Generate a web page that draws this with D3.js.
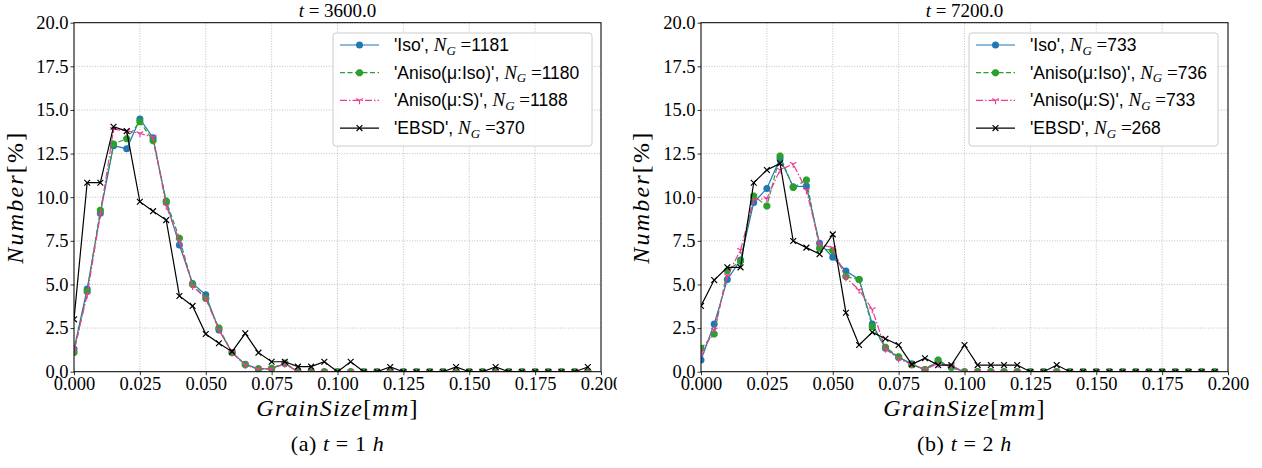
<!DOCTYPE html>
<html><head><meta charset="utf-8">
<script src="https://cdn.jsdelivr.net/npm/d3@7"></script>
<style>
body{margin:0;background:#fff;}
svg{display:block;}
</style></head>
<body>
<svg id="chart" width="1262" height="468"></svg>
<script>
// ---- data ----
const grainSize = d3.range(40).map(i => +(i * 0.005).toFixed(3));
const xTicks = [0, 0.025, 0.05, 0.075, 0.1, 0.125, 0.15, 0.175, 0.2];
const yTicks = [0, 2.5, 5, 7.5, 10, 12.5, 15, 17.5, 20];
const seriesNames = ["'Iso', ", "'Aniso(\u03BC:Iso)', ", "'Aniso(\u03BC:S)', ", "'EBSD', "];
const panelTitles = ["t = 3600.0", "t = 7200.0"];
const captions = [["(a) ", "t", " = 1 ", "h"], ["(b) ", "t", " = 2 ", "h"]];
const nGrainsLeft = [1181, 1180, 1188, 370];
const nGrainsRight = [733, 736, 733, 268];
const z = n => Array(n).fill(0);

const leftIso = [1.3, 4.74, 9.08, 12.95, 12.78, 14.48, 13.41, 9.72, 7.26, 5.06, 4.41, 2.39, 1.09, 0.42, 0.17, 0.17, 0.47, 0, ...z(22)];
const leftAnisoIso = [1.1, 4.6, 9.25, 13.05, 13.35, 14.33, 13.24, 9.78, 7.65, 5.0, 4.2, 2.5, 1.1, 0.4, 0.15, 0.2, 0.5, 0, ...z(22)];
const leftAnisoS = [1.2, 4.4, 9.0, 13.9, 13.8, 13.65, 13.45, 9.5, 7.5, 4.9, 4.2, 2.4, 1.1, 0.38, 0.15, 0.15, 0.45, 0, ...z(22)];
const leftEBSD = [3.0, 10.83, 10.83, 14.04, 13.79, 9.74, 9.2, 8.69, 4.34, 3.77, 2.16, 1.63, 1.15, 2.2, 1.09, 0.57, 0.57, 0.29, 0.29, 0.57,
  0, 0.57, 0, 0, 0.27, 0, 0, 0, 0, 0.27, 0, 0, 0.27, 0, 0, 0, 0, 0, 0, 0.27];

const rightIso = [0.67, 2.73, 5.29, 6.4, 9.69, 10.5, 12.2, 10.6, 10.64, 7.36, 6.56, 5.77, 5.29, 2.73, 1.34, 0.82, 0.45, 0.1, 0.6, 0.25, 0, ...z(19)];
const rightAnisoIso = [1.34, 2.16, 5.79, 6.34, 10.07, 9.5, 12.36, 10.55, 10.99, 7.07, 6.94, 5.45, 5.29, 2.58, 1.4, 0.86, 0.4, 0.13, 0.67, 0.25, 0, ...z(19)];
const rightAnisoS = [1.0, 2.4, 5.5, 6.97, 9.84, 9.93, 11.56, 11.9, 10.4, 7.3, 7.1, 5.4, 4.68, 3.57, 1.3, 0.75, 0.4, 0.15, 0.45, 0.35, 0, ...z(19)];
const rightEBSD = [3.77, 5.25, 5.98, 5.98, 10.83, 11.56, 11.94, 7.49, 7.11, 6.74, 7.87, 3.38, 1.53, 2.26, 1.89, 1.53, 0.42, 0.77, 0.38, 0.38,
  1.53, 0.38, 0.38, 0.38, 0.38, 0, 0, 0.38, 0, ...z(11)];

// ---- styles ----
const colors = ["#1f77b4", "#2ca02c", "#ee3a9a", "#000000"];
const dashes = [null, "5,2.5", "7,2,1.5,2", null];
const markers = ["circle", "octagon", "tridown", "x"];
const widths = [1.2, 1.2, 1.2, 1.2];

const svg = d3.select("#chart");
const serif = "'Liberation Serif', 'DejaVu Serif', serif";
const sans = "'Liberation Sans', 'DejaVu Sans', sans-serif";

function marker(g, type, x, y, color) {
  if (type === "circle") {
    g.append("circle").attr("cx", x).attr("cy", y).attr("r", 3.5).attr("fill", color);
  } else if (type === "octagon") {
    const r = 3.8;
    const pts = d3.range(8).map(k => {
      const a = Math.PI / 8 + k * Math.PI / 4;
      return [x + r * Math.cos(a), y + r * Math.sin(a)];
    });
    g.append("path").attr("d", "M" + pts.join("L") + "Z").attr("fill", color);
  } else if (type === "tridown") {
    const r = 3.8;
    g.append("path").attr("d", `M${x},${y}L${x},${y + r}M${x},${y}L${x - 0.866 * r},${y - 0.5 * r}M${x},${y}L${x + 0.866 * r},${y - 0.5 * r}`)
      .attr("stroke", color).attr("stroke-width", 1.2).attr("fill", "none");
  } else {
    const r = 2.9;
    g.append("path").attr("d", `M${x - r},${y - r}L${x + r},${y + r}M${x - r},${y + r}L${x + r},${y - r}`)
      .attr("stroke", color).attr("stroke-width", 1.2).attr("fill", "none");
  }
}

function panel(idx, x0, x1, yLabX, seriesArr, nGrains, legX0, legX1, clipRight) {
  const y0 = 22.7, y1 = 371.7;
  const x = d3.scaleLinear().domain([0, 0.2]).range([x0, x1]);
  const y = d3.scaleLinear().domain([0, 20]).range([y1, y0]);
  const root = svg.append("g");
  const clipId = "clip" + idx, outerId = "outer" + idx;
  const defs = svg.append("defs");
  defs.append("clipPath").attr("id", clipId).append("rect")
    .attr("x", x0).attr("y", y0).attr("width", x1 - x0).attr("height", y1 - y0);
  defs.append("clipPath").attr("id", outerId).append("rect")
    .attr("x", 0).attr("y", 0).attr("width", clipRight).attr("height", 468);
  const outer = root.append("g").attr("clip-path", `url(#${outerId})`);

  // grid
  const grid = outer.append("g");
  grid.selectAll("line.gx").data(xTicks).join("line")
    .attr("x1", d => x(d)).attr("x2", d => x(d)).attr("y1", y0).attr("y2", y1)
    .attr("stroke", "#b0b0b0").attr("stroke-width", 0.8).attr("stroke-dasharray", "1,1.6");
  grid.selectAll("line.gy").data(yTicks).join("line")
    .attr("x1", x0).attr("x2", x1).attr("y1", d => y(d)).attr("y2", d => y(d))
    .attr("stroke", "#b0b0b0").attr("stroke-width", 0.8).attr("stroke-dasharray", "1,1.6");

  // axes
  const xAxis = d3.axisBottom(x).tickValues(xTicks).tickFormat(d3.format(".3f")).tickSize(3.5).tickPadding(1);
  const yAxis = d3.axisLeft(y).tickValues(yTicks).tickFormat(d3.format(".1f")).tickSize(3.5).tickPadding(2);
  const gx = outer.append("g").attr("transform", `translate(0,${y1})`).call(xAxis);
  const gy = outer.append("g").attr("transform", `translate(${x0},0)`).call(yAxis);
  [gx, gy].forEach(g => {
    g.attr("font-family", serif).attr("font-size", 18.5);
    g.select(".domain").remove();
    g.selectAll("text").attr("font-family", serif).attr("font-size", 18.5).attr("fill", "#000");
    g.selectAll("line").attr("stroke", "#000").attr("stroke-width", 0.8);
  });
  gx.selectAll("text").attr("dy", "0.75em");

  // data lines
  const plot = outer.append("g").attr("clip-path", `url(#${clipId})`);
  const line = d3.line().x((d, i) => x(grainSize[i])).y(d => y(d));
  seriesArr.forEach((vals, s) => {
    const g = plot.append("g");
    g.append("path").attr("d", line(vals)).attr("fill", "none")
      .attr("stroke", colors[s]).attr("stroke-width", widths[s])
      .attr("stroke-dasharray", dashes[s]);
    vals.forEach((v, i) => marker(g, markers[s], x(grainSize[i]), y(v), colors[s]));
  });

  // spines
  outer.append("rect").attr("x", x0).attr("y", y0).attr("width", x1 - x0).attr("height", y1 - y0)
    .attr("fill", "none").attr("stroke", "#000").attr("stroke-width", 1);

  // title
  const t = root.append("text").attr("x", (x0 + x1) / 2).attr("y", 17).attr("text-anchor", "middle")
    .attr("font-family", serif).attr("font-size", 19);
  t.append("tspan").attr("font-style", "italic").text(panelTitles[idx].slice(0, 1));
  t.append("tspan").text(panelTitles[idx].slice(1));

  // axis labels
  const xl = root.append("text").attr("x", (x0 + x1) / 2).attr("y", 416).attr("text-anchor", "middle")
    .attr("font-family", serif).attr("font-size", 24).attr("letter-spacing", 1.2);
  xl.append("tspan").attr("font-style", "italic").text("GrainSize");
  xl.append("tspan").text("[");
  xl.append("tspan").attr("font-style", "italic").text("mm");
  xl.append("tspan").text("]");
  const yl = root.append("text").attr("transform", `translate(${yLabX},${(y0 + y1) / 2}) rotate(-90)`)
    .attr("text-anchor", "middle").attr("font-family", serif).attr("font-size", 24).attr("letter-spacing", 2.2);
  yl.append("tspan").attr("font-style", "italic").text("Number");
  yl.append("tspan").text("[%]");

  // caption
  const cap = root.append("text").attr("x", (x0 + x1) / 2).attr("y", 451).attr("text-anchor", "middle")
    .attr("font-family", serif).attr("font-size", 22).attr("letter-spacing", 0.6);
  captions[idx].forEach((p, k) => cap.append("tspan").attr("font-style", k % 2 ? "italic" : "normal").text(p));

  // legend
  const lg = root.append("g");
  lg.append("rect").attr("x", legX0).attr("y", 33).attr("width", legX1 - legX0).attr("height", 113)
    .attr("rx", 3).attr("fill", "#fff").attr("fill-opacity", 0.85).attr("stroke", "#cccccc").attr("stroke-width", 1);
  seriesNames.forEach((name, s) => {
    const cy = 45 + s * 27.7;
    const hx0 = legX0 + 7, hx1 = legX0 + 46;
    const hg = lg.append("g");
    hg.append("line").attr("x1", hx0).attr("x2", hx1).attr("y1", cy).attr("y2", cy)
      .attr("stroke", colors[s]).attr("stroke-width", widths[s]).attr("stroke-dasharray", dashes[s]);
    marker(hg, markers[s], (hx0 + hx1) / 2, cy, colors[s]);
    const tx = lg.append("text").attr("x", legX0 + 61).attr("y", cy + 6)
      .attr("font-family", sans).attr("font-size", 17.5).attr("fill", "#000");
    tx.append("tspan").text(name);
    tx.append("tspan").attr("font-family", serif).attr("font-style", "italic").attr("font-size", 19).text("N");
    tx.append("tspan").attr("font-family", serif).attr("font-style", "italic").attr("font-size", 13).attr("dy", 3.5).text("G");
    tx.append("tspan").attr("font-family", serif).attr("font-size", 19).attr("dy", -3.5).text(" =");
    tx.append("tspan").text(nGrains[s]);
  });
}

panel(0, 74, 601, 23, [leftIso, leftAnisoIso, leftAnisoS, leftEBSD], nGrainsLeft, 333, 592, 617);
panel(1, 701, 1228, 649, [rightIso, rightAnisoIso, rightAnisoS, rightEBSD], nGrainsRight, 969, 1218, 1262);
</script>
</body></html>
